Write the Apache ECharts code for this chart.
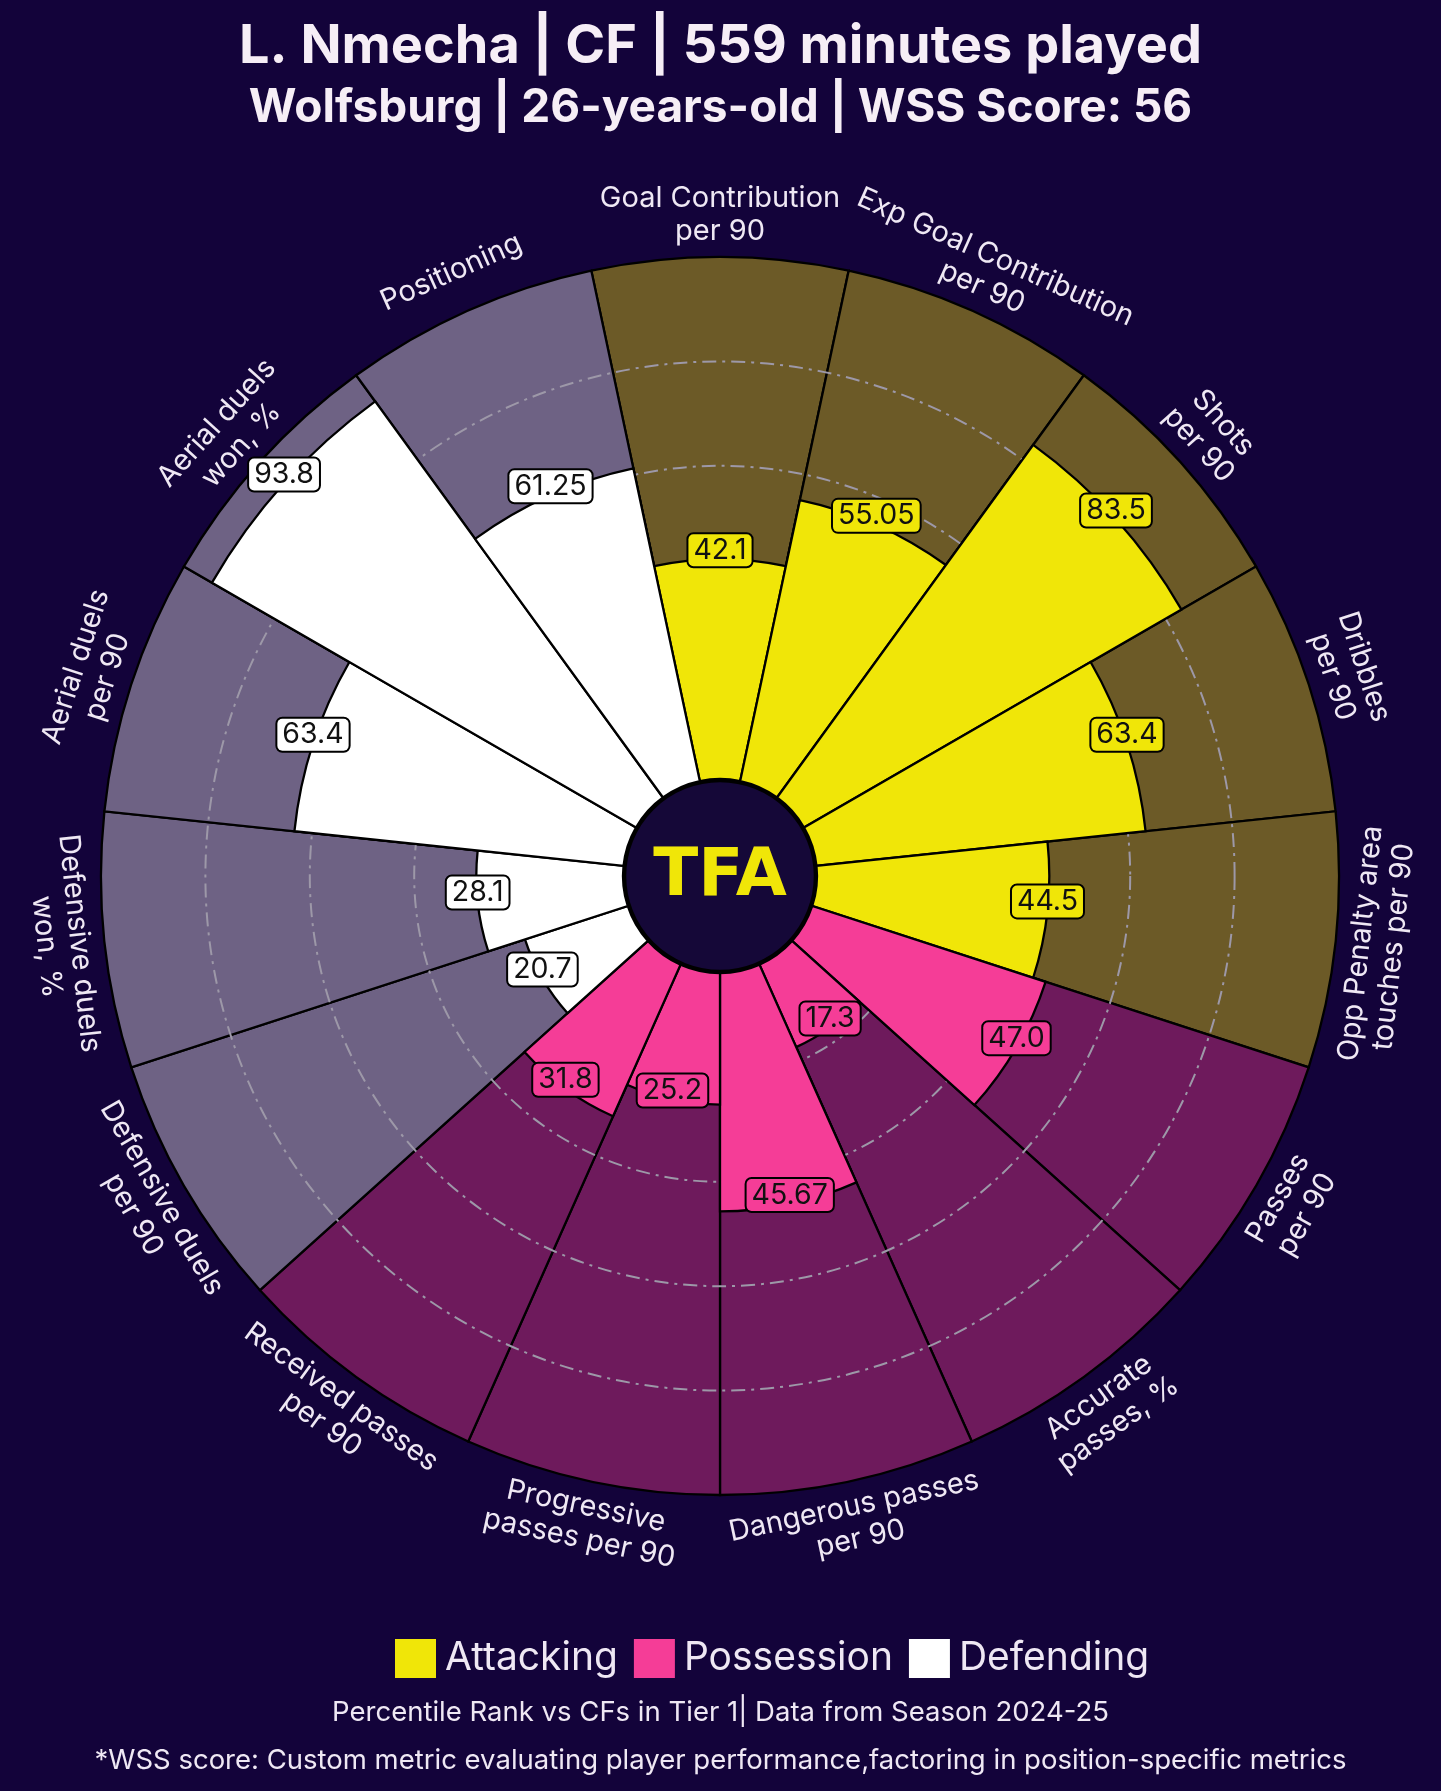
<!DOCTYPE html>
<html>
<head>
<meta charset="utf-8">
<script src="https://cdn.jsdelivr.net/npm/echarts@6/dist/echarts.min.js"></script>
<style>
html,body{margin:0;padding:0;background:#13033a;}
#chart{width:1441px;height:1791px;}
</style>
</head>
<body>
<div id="chart"></div>
<script>
// ---- data ----
const categories = [
  'Goal Contribution\nper 90', 'Exp Goal Contribution\nper 90', 'Shots\nper 90', 'Dribbles\nper 90',
  'Opp Penalty area\ntouches per 90', 'Passes\nper 90', 'Accurate\npasses, %', 'Dangerous passes\nper 90',
  'Progressive\npasses per 90', 'Received passes\nper 90', 'Defensive duels\nper 90', 'Defensive duels\nwon, %',
  'Aerial duels\nper 90', 'Aerial duels\nwon, %', 'Positioning'
];
const values = [42.1, 55.05, 83.5, 63.4, 44.5, 47.0, 17.3, 45.67, 25.2, 31.8, 20.7, 28.1, 63.4, 93.8, 61.25];
const valueLabels = ['42.1','55.05','83.5','63.4','44.5','47.0','17.3','45.67','25.2','31.8','20.7','28.1','63.4','93.8','61.25'];
const groups = ['Attacking','Attacking','Attacking','Attacking','Attacking',
  'Possession','Possession','Possession','Possession','Possession',
  'Defending','Defending','Defending','Defending','Defending'];
const groupNames = ['Attacking', 'Possession', 'Defending'];
const radiusTicks = [0, 20, 40, 60, 80, 100];

// ---- styles ----
const BG = '#13033a';
const groupColor = { Attacking: '#f0e608', Possession: '#f53d97', Defending: '#ffffff' };
const groupBg = { Attacking: '#6c5a27', Possession: '#6e1a5c', Defending: '#6e6284' };
const CX = 720, CY = 876, R_IN = 97, R_OUT = 619;
const LABEL_R = 108;
const TEXT = '#efe8f4';
const FONT = 'Inter, "Open Sans", sans-serif';

const chart = echarts.init(document.getElementById('chart'));

const bgSeries = {
  type: 'bar', coordinateSystem: 'polar', z: 1, silent: true,
  barGap: '-100%', barCategoryGap: '0%',
  data: categories.map((c, i) => ({
    value: radiusTicks[radiusTicks.length - 1],
    itemStyle: { color: groupBg[groups[i]], borderColor: '#000', borderWidth: 2.3 }
  }))
};

const valueSeries = groupNames.map(g => ({
  type: 'bar', coordinateSystem: 'polar', name: g, z: 3,
  barGap: '-100%', barCategoryGap: '0%',
  itemStyle: { color: groupColor[g], borderColor: '#000', borderWidth: 2.3 },
  data: values.map((v, i) => groups[i] === g ? v : '-')
}));

const catLabelSeries = {
  type: 'custom', coordinateSystem: 'polar', z: 5, silent: true,
  data: categories.map((c, i) => [LABEL_R, i]),
  renderItem: function (params, api) {
    const p = api.coord([api.value(0), api.value(1)]);
    const cs = params.coordSys;
    const th = Math.atan2(p[0] - cs.cx, -(p[1] - cs.cy));
    const rot = Math.cos(th) >= -0.0001 ? th : th - Math.PI;
    return {
      type: 'text', x: p[0], y: p[1], rotation: -rot,
      style: {
        text: categories[params.dataIndex], fill: TEXT,
        font: '400 29px ' + FONT, align: 'center', verticalAlign: 'middle', lineHeight: 33
      }
    };
  }
};

const valLabelSeries = {
  type: 'custom', coordinateSystem: 'polar', z: 6, silent: true,
  data: values.map((v, i) => [v, i]),
  renderItem: function (params, api) {
    const p = api.coord([api.value(0), api.value(1)]);
    const i = params.dataIndex;
    return {
      type: 'text', x: p[0], y: p[1] - 9,
      style: {
        text: valueLabels[i], fill: '#111',
        font: '400 28.5px ' + FONT, align: 'center', verticalAlign: 'middle',
        backgroundColor: groupColor[groups[i]], borderColor: '#000', borderWidth: 2,
        borderRadius: 5, padding: [2, 5, 1, 5]
      }
    };
  }
};

const option = {
  backgroundColor: BG,
  animation: false,
  title: [
    { text: 'L. Nmecha | CF | 559 minutes played', left: 'center', top: 15,
      textStyle: { color: '#f6eef6', fontSize: 54, fontWeight: 700, fontFamily: FONT } },
    { text: 'Wolfsburg | 26-years-old | WSS Score: 56', left: 'center', top: 80,
      textStyle: { color: '#f6eef6', fontSize: 46, fontWeight: 700, fontFamily: FONT } },
    { text: 'Percentile Rank vs CFs in Tier 1| Data from Season 2024-25', left: 'center', top: 1694,
      textStyle: { color: TEXT, fontSize: 27.5, fontWeight: 400, fontFamily: FONT } },
    { text: '*WSS score: Custom metric evaluating player performance,factoring in position-specific metrics', left: 'center', top: 1742,
      textStyle: { color: TEXT, fontSize: 27.5, fontWeight: 400, fontFamily: FONT } }
  ],
  legend: {
    data: groupNames, left: 390, top: 1634, icon: 'rect', padding: 5,
    itemWidth: 41, itemHeight: 39, itemGap: 16, selectedMode: false,
    itemStyle: { borderWidth: 0 },
    textStyle: { color: TEXT, fontSize: 39, fontFamily: FONT, padding: [0, 0, 0, 4] }
  },
  polar: { center: [CX, CY], radius: [R_IN, R_OUT] },
  angleAxis: {
    type: 'category', data: categories, startAngle: 90 + 180 / categories.length, clockwise: true,
    axisLine: { show: false }, axisTick: { show: false }, axisLabel: { show: false }, splitLine: { show: false }
  },
  radiusAxis: {
    type: 'value', min: 0, max: 100, interval: 20, z: 2,
    axisLine: { show: false }, axisTick: { show: false }, axisLabel: { show: false },
    splitLine: { show: true, lineStyle: {
      color: ['rgba(0,0,0,0)', '#9d98a8', '#9d98a8', '#9d98a8', '#9d98a8', 'rgba(0,0,0,0)'],
      width: 2, type: [14, 6, 3, 6] } }
  },
  graphic: [
    { type: 'circle', z: 20, shape: { cx: CX, cy: CY, r: R_IN - 2 },
      style: { fill: '#150838', stroke: '#000', lineWidth: 2.5 } },
    { type: 'text', z: 21, x: CX, y: CY + 2,
      style: { text: 'TFA', fill: '#f0e608', font: 'bold 66px "DejaVu Sans"', align: 'center', verticalAlign: 'middle' } }
  ],
  series: [bgSeries].concat(valueSeries, [catLabelSeries, valLabelSeries])
};
chart.setOption(option);
</script>
</body>
</html>
